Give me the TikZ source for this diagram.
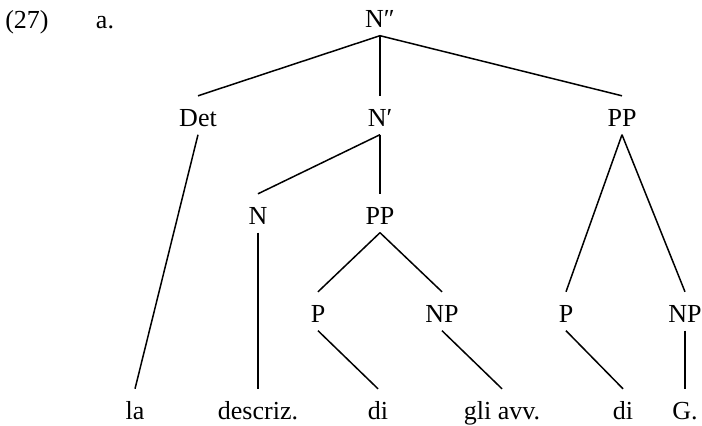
\documentclass[tikz,border=0pt]{standalone}
\usepackage{fontspec}
\setmainfont{Liberation Serif}
\begin{document}
\begin{tikzpicture}[x=1pt,y=1pt,
  lbl/.style={anchor=base,inner sep=0pt,text height=17pt,text depth=0pt,
              font=\fontsize{26}{31}\selectfont},
  branch/.style={line width=1.5pt}]
\useasboundingbox (0,0) rectangle (702,426);
% example number and letter
\node[lbl] (num) at (27,397) {(27)};
\node[lbl] (let) at (105,397) {a.};
% category labels, row by row
\node[lbl] (npp)  at (380,398) {N″};
\node[lbl] (det)  at (198,299) {Det};
\node[lbl] (nbar) at (380,299) {N′};
\node[lbl] (ppr)  at (622,299) {PP};
\node[lbl] (n)    at (258,201) {N};
\node[lbl] (ppm)  at (380,201) {PP};
\node[lbl] (pa)   at (318,103) {P};
\node[lbl] (npa)  at (442,103) {NP};
\node[lbl] (pb)   at (566,103) {P};
\node[lbl] (npb)  at (685,103) {NP};
% terminal words
\node[lbl] (wla)  at (135,6) {la};
\node[lbl] (wdes) at (258,6) {descriz.};
\node[lbl] (wdia) at (378,6) {di};
\node[lbl] (wgli) at (502,6) {gli avv.};
\node[lbl] (wdib) at (623,6) {di};
\node[lbl] (wg)   at (685,6) {G.};
% branches from mother to daughter
\newcommand\branchto[2]{\draw[branch] ([yshift=-7.5pt]#1.south) -- ([yshift=14pt]#2.north);}
\branchto{npp}{det}
\branchto{npp}{nbar}
\branchto{npp}{ppr}
\branchto{det}{wla}
\branchto{nbar}{n}
\branchto{nbar}{ppm}
\branchto{ppr}{pb}
\branchto{ppr}{npb}
\branchto{n}{wdes}
\branchto{ppm}{pa}
\branchto{ppm}{npa}
\branchto{pa}{wdia}
\branchto{npa}{wgli}
\branchto{pb}{wdib}
\branchto{npb}{wg}
\end{tikzpicture}
\end{document}
